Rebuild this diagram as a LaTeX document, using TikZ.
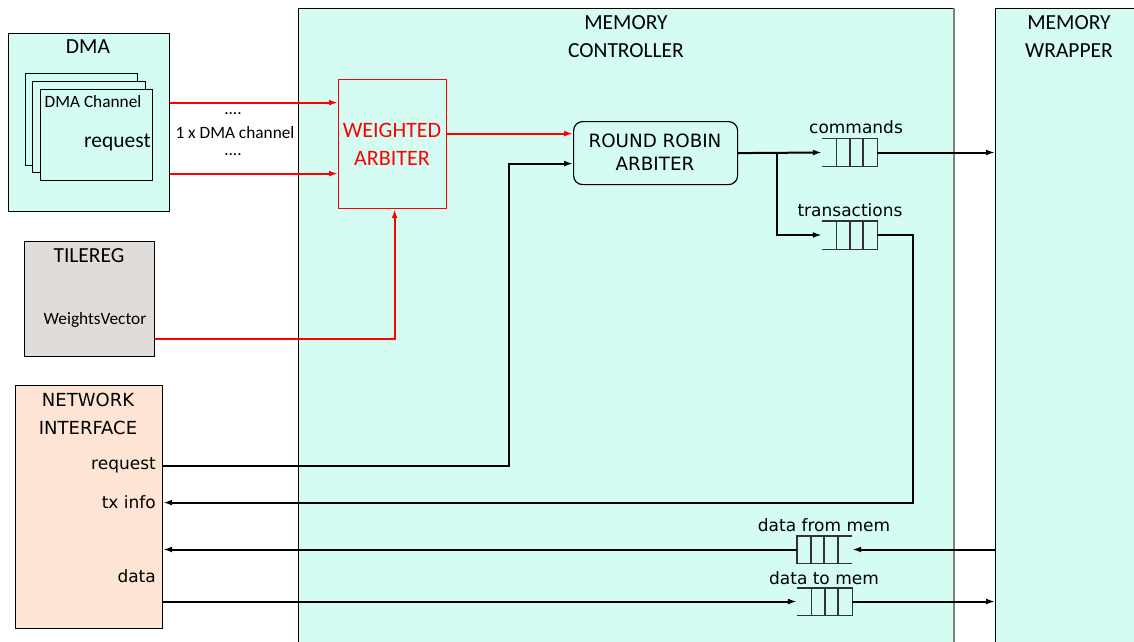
\documentclass[tikz,border=0pt]{standalone}
\usepackage{fontspec}
\setmainfont{Carlito}
\newfontfamily\dvfont{DejaVu Sans}
\usetikzlibrary{arrows.meta,calc}
\definecolor{mint}{RGB}{212,252,243}
\definecolor{tgray}{RGB}{224,220,218}
\definecolor{peach}{RGB}{253,228,212}
\definecolor{qcol}{RGB}{50,50,50}
\newcommand\queueopenleft[1]{%
  \draw[qline] (#1.north west) -- (#1.north east) -- (#1.south east) -- (#1.south west);
  \foreach \f in {0.27,0.51,0.745}
    \draw[qline] ($(#1.north west)!\f!(#1.north east)$) -- ($(#1.south west)!\f!(#1.south east)$);}
\newcommand\queueopenright[1]{%
  \draw[qline] (#1.north east) -- (#1.north west) -- (#1.south west) -- (#1.south east);
  \foreach \f in {0.255,0.49,0.745}
    \draw[qline] ($(#1.north west)!\f!(#1.north east)$) -- ($(#1.south west)!\f!(#1.south east)$);}
\begin{document}
\begin{tikzpicture}[x=1pt,y=-1pt,
  blk/.style={draw=black, line width=1.2pt, inner sep=0pt, anchor=north west},
  qbox/.style={inner sep=0pt, minimum width=55pt, minimum height=28pt},
  qline/.style={draw=qcol, line width=1.4pt},
  tbig/.style={font=\fontsize{21.5}{28}\selectfont, inner sep=0pt, align=center},
  tsmall/.style={font=\fontsize{17.3}{20}\selectfont, inner sep=0pt, align=center},
  tdv/.style={font=\dvfont\fontsize{17}{23}\selectfont, inner sep=0pt, align=center},
  tdvr/.style={font=\dvfont\fontsize{18.3}{23}\selectfont, inner sep=0pt, align=center},
  tdvb/.style={font=\dvfont\fontsize{18}{28}\selectfont, inner sep=0pt, align=center},
  redc/.style={draw=red, line width=2pt, -{Latex[length=9pt,width=6pt]}},
  blkc/.style={draw=black, line width=2pt, -{Latex[length=9pt,width=6pt]}},
  blkl/.style={draw=black, line width=2pt}]
\clip (0,0) rectangle (1134,641);
\fill[white] (0,0) rectangle (1134,641);
% main blocks
\node[blk, fill=mint, minimum width=655pt, minimum height=700pt] (ctl) at (298,8) {};
\draw[draw=gray, line width=1.6pt] (ctl.north east) -- (ctl.south east);
\node[blk, fill=mint, minimum width=200pt, minimum height=700pt] (wrap) at (995,8) {};
\node[blk, fill=mint, minimum width=161pt, minimum height=178pt] (dma) at (8,33) {};
\node[blk, fill=mint, minimum width=112pt, minimum height=92pt] (ch3) at (25,73) {};
\node[blk, fill=mint, minimum width=113pt, minimum height=91pt] (ch2) at (32,81) {};
\node[blk, fill=mint, minimum width=112pt, minimum height=91pt] (ch1) at (40,89) {};
\node[blk, fill=tgray, minimum width=130pt, minimum height=115pt] (tile) at (24,241) {};
\node[blk, fill=peach, minimum width=147pt, minimum height=243pt] (ni) at (15,385) {};
\node[blk, draw=red, fill=mint, minimum width=108pt, minimum height=129pt] (warb) at (338,79) {};
\node[blk, fill=mint, rounded corners=9pt, minimum width=164pt, minimum height=63pt] (rr) at (573,121) {};
% queues
\node[qbox] (cq) at (849.5,152.5) {};
\node[qbox] (tq) at (849.5,235) {};
\node[qbox, minimum height=27pt] (dfm) at (824.5,549.5) {};
\node[qbox, minimum height=27pt] (dtm) at (824.5,601.5) {};
\queueopenleft{cq}
\queueopenleft{tq}
\queueopenright{dfm}
\queueopenleft{dtm}
% red connectors
\draw[redc] ([yshift=20pt]dma.east) -- ([yshift=20pt]dma.east -| warb.west);
\draw[redc] ([yshift=-51pt]dma.east) -- ([yshift=-51pt]dma.east -| warb.west);
\draw[redc] ([yshift=10.5pt]warb.east) -- ([yshift=10.5pt]warb.east -| rr.west);
\draw[redc] ([yshift=-39.5pt]tile.east) -| ([xshift=2pt]warb.south);
% black connectors
\draw[blkc] ([yshift=41.5pt]ni.east) -| ([xshift=-64pt,yshift=-10.5pt]rr.west) -- ([yshift=-10.5pt]rr.west);
\draw[blkc] (rr.east) -- (cq.west);
\coordinate (br) at ($(rr.east)+(39,0)$);
\draw[blkc] (br) |- (tq.west);
\draw[blkc] (cq.east) -- (cq.east -| wrap.west);
\draw[blkc] (tq.east) -- ++(36,0) |- ([yshift=4.5pt]ni.east);
\draw[blkc] (dfm.east -| wrap.west) -- (dfm.east);
\draw[blkc] (dfm.west) -- (dfm.west -| ni.east);
\draw[blkc] (dtm.west -| ni.east) -- (dtm.west);
\draw[blkc] (dtm.east) -- (dtm.east -| wrap.west);
% texts
\node[tbig] (ctlt) at (626,36.5) {MEMORY\\CONTROLLER};
\node[tbig] (wrapt) at (1069,36.5) {MEMORY\\WRAPPER};
\node[tbig] (dmat) at (88,47) {DMA};
\node[tsmall] (cht) at (93,102) {DMA Channel};
\node[tbig, anchor=east] (chr) at (151,142) {request};
\node[tsmall] (dots1) at (233,114) {....};
\node[tsmall] (chn) at (235,133) {1 x DMA channel};
\node[tsmall] (dots2) at (233,155) {....};
\node[tbig, text=red, font=\fontsize{22}{28}\selectfont] (warbt) at (392,144) {WEIGHTED\\ARBITER};
\node[tdvr] (rrt) at (655,152.5) {ROUND ROBIN\\ARBITER};
\node[tbig] (tilet) at (89,256) {TILEREG};
\node[tsmall] (wvt) at (95,320) {WeightsVector};
\node[tdvb] (nit) at (88,414) {NETWORK\\INTERFACE};
\node[tdv, anchor=east] (nireq) at (156,465) {request};
\node[tdv, anchor=east] (nitx) at (156,502) {tx info};
\node[tdv, anchor=east] (nidata) at (156,576) {data};
\node[tdv] (cqt) at (856,127) {commands};
\node[tdv] (tqt) at (850,210) {transactions};
\node[tdv] (dfmt) at (824,525) {data from mem};
\node[tdv] (dtmt) at (824,578) {data to mem};
\end{tikzpicture}
\end{document}
